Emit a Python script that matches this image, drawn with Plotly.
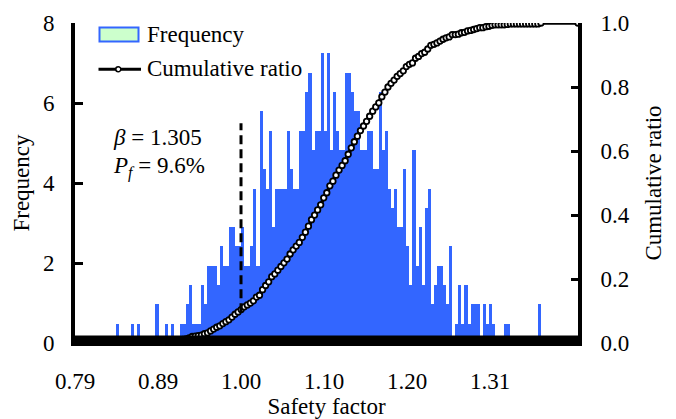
import numpy as np
import plotly.graph_objects as go

# ---------------- data ----------------
bin_start = 0.8415      # left edge of the first histogram bin
bin_width = 0.00387     # histogram bin width (safety factor)
frequency = [
    0.48, 0, 0, 0, 0, 0.48, 0, 0.48, 0, 0,
    0, 0, 0, 0.97, 0, 0, 0.48, 0, 0.48, 0,
    0, 0.48, 0.48, 0.97, 1.45, 0.48, 0.48, 0.48, 1.45, 0.97,
    1.93, 1.93, 1.93, 1.45, 2.42, 1.93, 1.93, 2.90, 2.90, 2.42,
    2.42, 2.90, 1.93, 1.93, 2.42, 3.86, 1.93, 5.80, 4.35, 3.86,
    5.31, 2.90, 3.86, 3.86, 3.86, 3.86, 5.31, 4.35, 3.86, 3.86,
    5.31, 5.31, 6.28, 6.76, 4.83, 5.31, 5.31, 7.25, 5.31, 7.25,
    4.83, 6.28, 5.31, 4.83, 4.83, 6.76, 6.76, 6.28, 5.80, 5.80,
    4.83, 4.83, 5.31, 5.31, 4.35, 4.35, 6.28, 4.83, 5.31, 3.86,
    3.38, 3.86, 2.90, 2.90, 4.35, 2.42, 1.45, 4.83, 1.93, 2.90,
    1.45, 3.38, 3.86, 0.97, 1.45, 1.93, 1.93, 1.45, 0.97, 2.42,
    0, 0.48, 1.45, 0.48, 1.45, 0.48, 0.97, 0.97, 0.97, 0,
    0.97, 0.48, 0.97, 0.48, 0, 0, 0, 0.48, 0.48, 0,
    0, 0, 0, 0, 0, 0, 0, 0, 0.97,
]
x_tick_vals = [0.79, 0.895, 1.00, 1.105, 1.21, 1.315]
x_tick_text = ["0.79", "0.89", "1.00", "1.10", "1.20", "1.31"]
x_range = [0.79, 1.4263]
freq_ticks = [0, 2, 4, 6, 8]
ratio_ticks = [0.0, 0.2, 0.4, 0.6, 0.8, 1.0]
limit_sf = 1.00
beta_text = "1.305"
pf_value = 0.096
pf_text = "9.6%"

# ---------------- derived ----------------
freq = np.array(frequency, dtype=float)
n = len(freq)
centers = bin_start + bin_width * (np.arange(n) + 0.5)
right_edges = bin_start + bin_width * (np.arange(n) + 1)
cum = np.cumsum(freq) / freq.sum()
cum_x = np.concatenate([[x_range[0]], right_edges, [x_range[1]]])
cum_y = np.concatenate([[0.0], cum, [1.0]])

FONT = "Liberation Serif"
FS = 23
BLUE = "#3366FF"

fig = go.Figure()
fig.add_trace(go.Bar(
    x=centers, y=freq, width=bin_width,
    marker=dict(color=BLUE, line=dict(width=0)),
    name="Frequency", showlegend=False, yaxis="y",
))
fig.add_trace(go.Scatter(
    x=cum_x, y=cum_y, mode="lines+markers", yaxis="y2",
    line=dict(color="black", width=3.5),
    marker=dict(size=5.5, color="white", line=dict(color="black", width=1.8)),
    name="Cumulative ratio", showlegend=False,
))

# plot area geometry in px (for legend/annotation placement)
L, R, T, B = 75, 578, 23, 343.5
W, H = R - L, B - T
def px(x):
    return (x - L) / W
def py(y):
    return (B - y) / H

shapes = [
    # thick bottom axis band
    dict(type="rect", xref="paper", yref="paper",
         x0=px(71), x1=px(582), y0=py(346.5), y1=py(336),
         fillcolor="black", line=dict(width=0), layer="above"),
    # limit line at safety factor 1.00
    dict(type="line", xref="x", yref="y2", x0=limit_sf, x1=limit_sf,
         y0=pf_value, y1=0.687,
         line=dict(color="black", width=3, dash="9px,5px"), layer="above"),
    # legend: frequency swatch
    dict(type="rect", xref="paper", yref="paper",
         x0=px(99.5), x1=px(138.5), y0=py(41.5), y1=py(27.5),
         fillcolor="#ccffcc", line=dict(color=BLUE, width=2), layer="above"),
    # legend: cumulative line
    dict(type="line", xref="paper", yref="paper",
         x0=px(98.5), x1=px(141), y0=py(69.3), y1=py(69.3),
         line=dict(color="black", width=3), layer="above"),
    dict(type="circle", xref="paper", yref="paper",
         x0=px(115.8), x1=px(120.8), y0=py(71.8), y1=py(66.8),
         fillcolor="white", line=dict(color="black", width=1.5), layer="above"),
]

tf = dict(family=FONT, size=FS, color="black")
annotations = [
    dict(text="Frequency", x=px(145), y=py(35), xref="paper", yref="paper",
         xanchor="left", yanchor="middle", showarrow=False, font=tf),
    dict(text="Cumulative ratio", x=px(145), y=py(69), xref="paper", yref="paper",
         xanchor="left", yanchor="middle", showarrow=False, font=tf),
    dict(text="<i>β</i> = " + beta_text, x=px(111), y=py(138), xref="paper", yref="paper",
         xanchor="left", yanchor="middle", showarrow=False, font=tf),
    dict(text="<i>P<sub>f</sub></i> = " + pf_text, x=px(111), y=py(168), xref="paper", yref="paper",
         xanchor="left", yanchor="middle", showarrow=False, font=tf),
]

fig.update_layout(
    width=676, height=419,
    margin=dict(l=L, r=676 - R, t=T, b=419 - B, pad=0, autoexpand=False),
    plot_bgcolor="white", paper_bgcolor="white",
    font=tf, bargap=0, showlegend=False,
    shapes=shapes, annotations=annotations,
    xaxis=dict(range=x_range, tickvals=x_tick_vals, ticktext=x_tick_text,
               ticks="", showline=False, showgrid=False, zeroline=False,
               tickfont=tf, ticklabelstandoff=22, automargin=False,
               title=dict(text="Safety factor", font=tf, standoff=4)),
    yaxis=dict(range=[0, 8], tickvals=freq_ticks, ticks="inside", ticklen=8,
               tickwidth=3, tickcolor="black", showline=True, linewidth=4,
               linecolor="black", showgrid=False, zeroline=False,
               tickfont=tf, ticklabelstandoff=12, automargin=False,
               title=dict(text="Frequency", font=tf, standoff=8)),
    yaxis2=dict(range=[0, 1], tickvals=ratio_ticks, tickformat=".1f",
                overlaying="y", side="right", ticks="inside", ticklen=7,
                tickwidth=3, tickcolor="black", showline=True, linewidth=4,
                linecolor="black", showgrid=False, zeroline=False,
                tickfont=tf, ticklabelstandoff=14, automargin=False,
                title=dict(text="Cumulative ratio", font=tf, standoff=17)),
)

fig.write_html("out.html", config={"displayModeBar": False},
               post_script="document.body.style.margin='0px';")
